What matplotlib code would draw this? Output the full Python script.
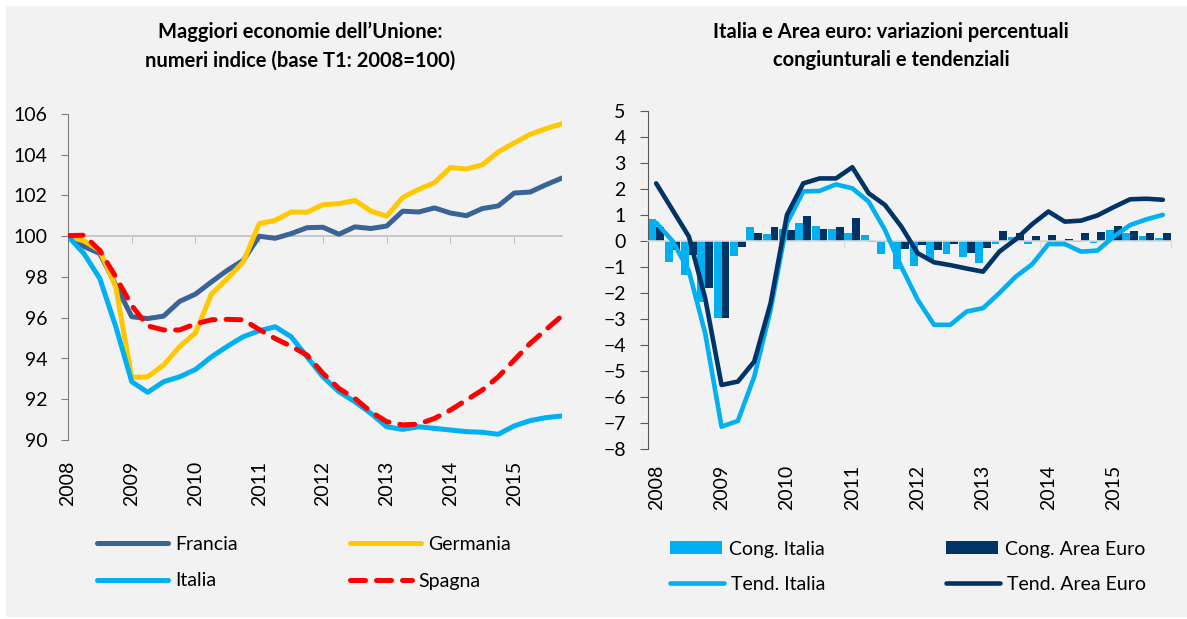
import numpy as np
import matplotlib
matplotlib.use("Agg")
import matplotlib.pyplot as plt
from matplotlib.patches import Rectangle
from matplotlib.lines import Line2D

plt.rcParams['font.family'] = ['Lato', 'DejaVu Sans']

# ---------------- data ----------------
years = ['2008', '2009', '2010', '2011', '2012', '2013', '2014', '2015']

francia = [100.0, 99.5, 99.15, 97.6, 96.05, 95.96, 96.08, 96.8, 97.16, 97.76, 98.33, 98.82,
           100.0, 99.9, 100.13, 100.42, 100.44, 100.1, 100.46, 100.38, 100.5, 101.23, 101.19,
           101.39, 101.14, 101.01, 101.36, 101.49, 102.12, 102.17, 102.53, 102.86]
germania = [100.0, 99.77, 99.3, 97.5, 93.07, 93.1, 93.68, 94.58, 95.26, 97.16, 97.92, 98.74,
            100.62, 100.78, 101.19, 101.18, 101.55, 101.6, 101.76, 101.24, 100.98, 101.9, 102.3,
            102.63, 103.37, 103.3, 103.51, 104.14, 104.58, 105.0, 105.28, 105.52]
italia = [100.0, 99.15, 97.92, 95.56, 92.86, 92.34, 92.86, 93.1, 93.46, 94.08, 94.6, 95.07,
          95.36, 95.56, 95.07, 94.08, 93.1, 92.37, 91.88, 91.31, 90.65, 90.52, 90.65, 90.57,
          90.49, 90.41, 90.38, 90.28, 90.69, 90.95, 91.1, 91.18]
spagna = [100.03, 100.05, 99.3, 98.0, 96.6, 95.6, 95.4, 95.4, 95.7, 95.9, 95.92, 95.9,
          95.42, 94.98, 94.6, 94.17, 93.27, 92.53, 92.04, 91.39, 90.9, 90.74, 90.78, 91.06,
          91.47, 91.96, 92.45, 93.1, 93.92, 94.74, 95.42, 96.1]

cong_italia = [0.84, -0.79, -1.31, -2.33, -2.94, -0.58, 0.55, 0.26, 0.45, 0.70, 0.58, 0.46,
               0.31, 0.23, -0.5, -1.09, -0.96, -0.72, -0.5, -0.6, -0.85, -0.1, 0.17, -0.13,
               -0.06, -0.03, -0.05, -0.09, 0.42, 0.3, 0.19, 0.1]
cong_area_euro = [0.55, -0.35, -0.54, -1.79, -2.97, -0.22, 0.32, 0.55, 0.42, 0.97, 0.47, 0.55,
                  0.88, -0.03, -0.05, -0.32, -0.15, -0.35, -0.13, -0.45, -0.26, 0.4, 0.29, 0.2,
                  0.23, 0.06, 0.29, 0.36, 0.58, 0.38, 0.29, 0.32]
tend_italia = [0.7, 0.0, -1.15, -3.55, -7.13, -6.91, -5.21, -2.65, 0.68, 1.9, 1.92, 2.17,
               2.02, 1.51, 0.42, -0.99, -2.26, -3.22, -3.22, -2.71, -2.58, -2.0, -1.37, -0.9,
               -0.12, -0.12, -0.41, -0.37, 0.17, 0.61, 0.83, 1.0]
tend_area_euro = [2.21, 1.19, 0.17, -2.2, -5.53, -5.4, -4.63, -2.39, 1.0, 2.21, 2.4, 2.4,
                  2.83, 1.83, 1.38, 0.55, -0.47, -0.82, -0.93, -1.06, -1.18, -0.41, 0.06, 0.64,
                  1.13, 0.74, 0.78, 0.98, 1.3, 1.6, 1.62, 1.58]

# ---------------- style ----------------
W, H = 1187, 619
FS = 14
C_FR, C_DE, C_IT, C_ES = '#3A6496', '#FFC800', '#00B0F0', '#FF0000'
C_AE = '#003366'

fig = plt.figure(figsize=(W / 100, H / 100), dpi=100)
fig.patch.set_facecolor('white')
fig.add_artist(Rectangle((6 / W, 2 / H), 1, 1 - 8 / H, transform=fig.transFigure,
                         facecolor='#F2F2F2', edgecolor='none', zorder=-100))


def fax(x0, y0, x1, y1):
    return [x0 / W, 1 - y1 / H, (x1 - x0) / W, (y1 - y0) / H]


# ---------------- left chart ----------------
ax1 = fig.add_axes(fax(68, 114, 562, 440))
ax1.patch.set_alpha(0)
q = np.arange(len(francia))
l_fr, = ax1.plot(q, francia, color=C_FR, lw=3.6, solid_capstyle='round', solid_joinstyle='round', zorder=3)
l_de, = ax1.plot(q, germania, color=C_DE, lw=3.6, solid_capstyle='round', solid_joinstyle='round', zorder=3)
l_it, = ax1.plot(q, italia, color=C_IT, lw=3.6, solid_capstyle='round', solid_joinstyle='round', zorder=3)
l_es, = ax1.plot(q, spagna, color=C_ES, lw=3.6, dashes=(3.0, 2.2), dash_capstyle='round', zorder=4)
ax1.set_xlim(0, len(q) - 1)
ax1.set_ylim(90, 106)
ax1.set_yticks(np.arange(90, 107, 2))
for s in ['top', 'right']:
    ax1.spines[s].set_visible(False)
ax1.spines['left'].set_color('#7F7F7F')
ax1.spines['bottom'].set_position(('data', 100))
ax1.spines['bottom'].set_color('#BFBFBF')
ax1.spines['bottom'].set_linewidth(1.2)
ax1.set_xticks(np.arange(0, len(q), 4))
ax1.tick_params(axis='x', direction='out', length=5, color='#BFBFBF', labelbottom=False)
ax1.tick_params(axis='y', direction='out', length=5, color='#7F7F7F', pad=10, labelsize=FS)
sec1 = ax1.secondary_xaxis(0)
sec1.set_xticks(np.arange(0, len(q), 4), labels=years)
sec1.tick_params(length=0, pad=15, labelsize=FS, labelrotation=90)
sec1.spines['bottom'].set_visible(False)

fig.text(300 / W, 1 - 46 / H, 'Maggiori economie dell’Unione:\nnumeri indice (base T1: 2008=100)',
         ha='center', va='center', fontsize=14.5, fontweight='bold', linespacing=1.55)

# ---------------- right chart ----------------
ax2 = fig.add_axes(fax(648, 110.7, 1171, 449.3))
ax2.patch.set_alpha(0)
q2 = np.arange(len(cong_italia))
bw = 0.48
b_it = ax2.bar(q2 - bw / 2, cong_italia, width=bw, color=C_IT, zorder=2)
b_ae = ax2.bar(q2 + bw / 2, cong_area_euro, width=bw, color=C_AE, zorder=2)
t_it, = ax2.plot(q2, tend_italia, color=C_IT, lw=3.3, solid_capstyle='round', solid_joinstyle='round', zorder=3)
t_ae, = ax2.plot(q2, tend_area_euro, color=C_AE, lw=3.3, solid_capstyle='round', solid_joinstyle='round', zorder=4)
ax2.set_xlim(-0.5, len(q2) - 0.5)
ax2.set_ylim(-8, 5)
ax2.set_yticks(np.arange(-8, 6, 1))
for s in ['top', 'right']:
    ax2.spines[s].set_visible(False)
ax2.spines['left'].set_color('#595959')
ax2.spines['bottom'].set_position(('data', 0))
ax2.spines['bottom'].set_color('#D9D9D9')
ax2.spines['bottom'].set_linewidth(1.2)
ax2.set_xticks(np.arange(-0.5, len(q2), 4))
ax2.tick_params(axis='x', direction='out', length=5, color='#D9D9D9', labelbottom=False)
ax2.tick_params(axis='y', direction='out', length=6, color='#595959', pad=10, labelsize=FS)
sec2 = ax2.secondary_xaxis(0)
sec2.set_xticks(np.arange(0, len(q2), 4), labels=years)
sec2.tick_params(length=0, pad=11, labelsize=FS, labelrotation=90)
sec2.spines['bottom'].set_visible(False)

fig.text(891 / W, 1 - 46 / H, 'Italia e Area euro: variazioni percentuali\ncongiunturali e tendenziali',
         ha='center', va='center', fontsize=14.5, fontweight='bold', linespacing=1.55)

# ---------------- legends ----------------
fs_px = FS * 100 / 72


def entry(handle, label, x, y, hl_px, hh=0.7):
    fig.legend([handle], [label], loc='center left', bbox_to_anchor=(x / W, 1 - y / H),
               bbox_transform=fig.transFigure, frameon=False, borderpad=0, borderaxespad=0,
               handlelength=hl_px / fs_px, handleheight=hh, handletextpad=0.35, fontsize=FS)


def lh(color, **kw):
    return Line2D([], [], color=color, lw=3.6, solid_capstyle='round', **kw)


entry(lh(C_FR), 'Francia', 97, 544, 71)
entry(lh(C_DE), 'Germania', 350, 544, 71)
entry(lh(C_IT), 'Italia', 97, 581, 71)
entry(Line2D([], [], color=C_ES, lw=3.6, dashes=(3.0, 2.2), dash_capstyle='round'), 'Spagna', 350, 581, 62)

entry(b_it.patches[0], 'Cong. Italia', 670, 549, 52, hh=0.67)
entry(b_ae.patches[0], 'Cong. Area Euro', 946, 549, 52, hh=0.67)
entry(lh(C_IT, lw=None) if False else Line2D([], [], color=C_IT, lw=3.3, solid_capstyle='round'),
      'Tend. Italia', 670, 584, 54)
entry(Line2D([], [], color=C_AE, lw=3.3, solid_capstyle='round'), 'Tend. Area Euro', 946, 584, 54)

fig.savefig('out.png', dpi=100, facecolor=fig.get_facecolor())
